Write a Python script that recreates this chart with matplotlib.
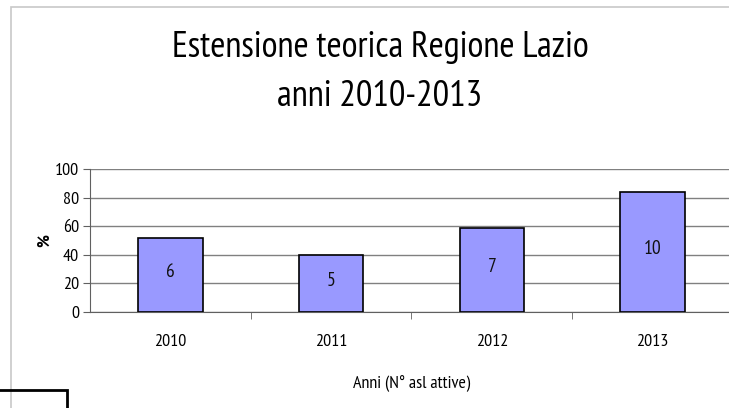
import matplotlib
matplotlib.use('Agg')
import matplotlib.pyplot as plt
from matplotlib.patches import Rectangle

years = ['2010', '2011', '2012', '2013']
percent = [52, 40, 59, 84]
asl_attive = ['6', '5', '7', '10']

plt.rcParams['font.family'] = ['PT Sans Narrow', 'DejaVu Sans']

fig = plt.figure(figsize=(7.29, 4.08), dpi=100)

# chart area frame and the small box at bottom left
fig.patches.append(Rectangle((11 / 729, -0.5), 1.5, 1.5 - 7 / 408, transform=fig.transFigure,
                             fill=False, edgecolor='#c8c8c8', linewidth=1.2))
fig.patches.append(Rectangle((-0.01, -0.1), 74 / 729, 0.1 + 18 / 408, transform=fig.transFigure,
                             fill=False, edgecolor='black', linewidth=2))

ax = fig.add_axes([90 / 729, 1 - 312 / 408, 643 / 729, 143 / 408])
x = list(range(len(years)))
bars = ax.bar(x, percent, width=0.4, color='#9999ff', edgecolor='black', linewidth=1.2, zorder=3)
for xi, v, lab in zip(x, percent, asl_attive):
    ax.text(xi, v / 2 + 2, lab, ha='center', va='center', fontsize=14, color='#111111', zorder=4)

ax.set_xlim(-0.5, 3.5)
ax.set_ylim(0, 100)
ax.set_yticks([0, 20, 40, 60, 80, 100])
ax.set_xticks(x)
ax.set_xticklabels(years)
ax.set_xticks([0.5, 1.5, 2.5], minor=True)
ax.tick_params(axis='x', which='major', length=0, pad=16, labelsize=13)
ax.tick_params(axis='x', which='minor', length=5, color='#606060')
ax.tick_params(axis='y', length=5, color='#606060', labelsize=13, pad=3)
ax.yaxis.grid(True, color='#808080', linewidth=1, zorder=0)
for s in ['top', 'right']:
    ax.spines[s].set_visible(False)
ax.spines['left'].set_color('#606060')
ax.spines['bottom'].set_color('#606060')
ax.set_ylabel('%', fontsize=13, fontweight='bold', labelpad=1)
ax.set_xlabel('Anni (N° asl attive)', fontsize=13, labelpad=18)

fig.text(380 / 729, 1 - 48 / 408, 'Estensione teorica Regione Lazio', ha='center', va='center', fontsize=26.5)
fig.text(380 / 729, 1 - 96 / 408, 'anni 2010-2013', ha='center', va='center', fontsize=26.5)

fig.savefig('out.png', dpi=100)
